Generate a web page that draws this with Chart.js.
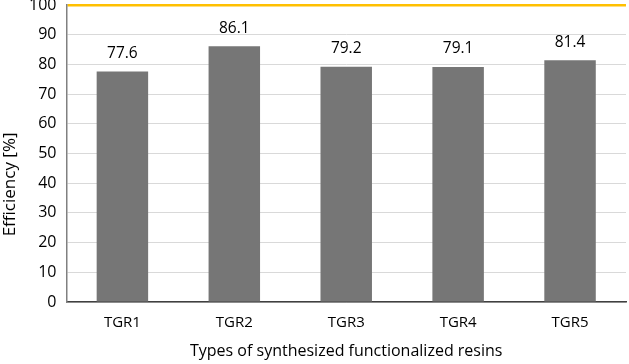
<!DOCTYPE html>
<html>
<head>
<meta charset="utf-8">
<script src="https://cdn.jsdelivr.net/npm/chart.js@4"></script>
<style>
  html, body { margin: 0; padding: 0; background: #fff; }
  #wrap { width: 629px; height: 364px; }
</style>
</head>
<body>
<div id="wrap"><canvas id="effChart" width="629" height="364"></canvas></div>
<script>
const resins = ['TGR1', 'TGR2', 'TGR3', 'TGR4', 'TGR5'];
const efficiency = [77.6, 86.1, 79.2, 79.1, 81.4];
const yTicks = [0, 10, 20, 30, 40, 50, 60, 70, 80, 90, 100];

// draws the value above each bar
const barValues = {
    id: 'barValues',
    afterDatasetsDraw(chart) {
        const ctx = chart.ctx;
        const meta = chart.getDatasetMeta(0);
        ctx.save();
        ctx.font = '15.5px "Open Sans", sans-serif';
        ctx.fillStyle = '#000';
        ctx.textAlign = 'center';
        ctx.textBaseline = 'middle';
        meta.data.forEach((bar, i) => {
            ctx.fillText(efficiency[i].toFixed(1), bar.x, bar.y - 18);
        });
        ctx.restore();
    }
};

const ctx = document.getElementById('effChart').getContext('2d');
const effChart = new Chart(ctx, {
    type: 'bar',
    data: {
        labels: resins,
        datasets: [{
            label: 'Efficiency',
            data: efficiency,
            backgroundColor: '#767676',
            barPercentage: 0.92,
            categoryPercentage: 0.5
        }]
    },
    options: {
        responsive: false,
        animation: false,
        layout: { padding: { top: 0, right: 3, left: 2, bottom: 5 } },
        plugins: {
            legend: { display: false },
            tooltip: { enabled: false }
        },
        scales: {
            x: {
                grid: { display: false, drawTicks: false },
                border: { color: '#404040', width: 1.5 },
                ticks: { color: '#000', font: { family: 'Open Sans', size: 15, lineHeight: 1 }, padding: 13 },
                title: {
                    display: true,
                    text: 'Types of synthesized functionalized resins',
                    color: '#000',
                    font: { family: 'Open Sans', size: 16, lineHeight: 1 },
                    padding: { top: 0, bottom: 0 }
                }
            },
            y: {
                min: 0,
                max: 100,
                afterBuildTicks: axis => { axis.ticks = yTicks.map(v => ({ value: v })); },
                afterFit: axis => { axis.paddingTop = 5; },
                grid: {
                    drawTicks: false,
                    color: c => c.tick.value === 100 ? '#FFC000' : '#d9d9d9',
                    lineWidth: c => c.tick.value === 100 ? 2.5 : 1
                },
                border: { color: '#808080', width: 1.5 },
                ticks: { color: '#000', font: { family: 'Open Sans', size: 16, lineHeight: 0.6 }, padding: 10 },
                title: {
                    display: true,
                    // trailing spaces push the title down a little, like the original
                    text: 'Efficiency [%]' + '\u00A0'.repeat(14),
                    color: '#000',
                    font: { family: 'Open Sans', size: 17, lineHeight: 1 },
                    padding: { top: 0, bottom: 0 }
                }
            }
        }
    },
    plugins: [barValues]
});
</script>
</body>
</html>
